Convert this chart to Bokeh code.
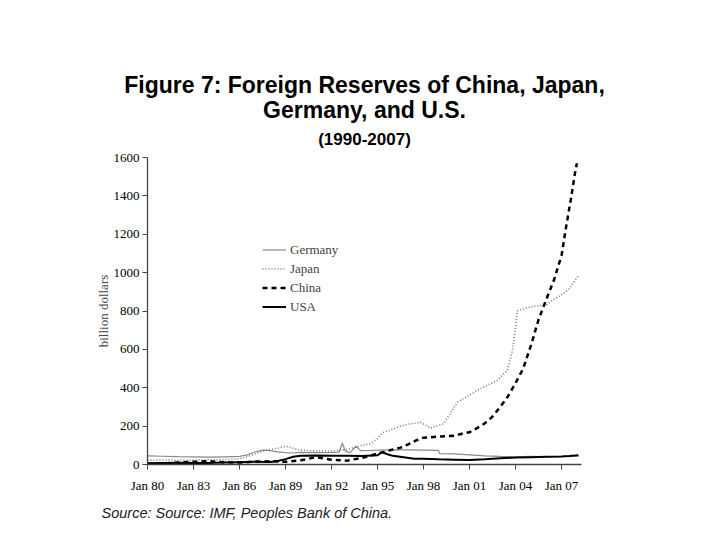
from bokeh.plotting import figure
from bokeh.models import FixedTicker, Legend, LegendItem, Range1d, Title
from bokeh.embed import file_html
from bokeh.resources import INLINE

# ---------------- data (billion dollars) ----------------
germany_years = [1980.0, 1981.0, 1982.0, 1983.0, 1984.0, 1985.0, 1986.0, 1986.5, 1987.0, 1987.5,
                 1988.0, 1988.5, 1989.0, 1989.5, 1990.0, 1991.0, 1992.0, 1992.5, 1992.7, 1992.9,
                 1993.2, 1993.6, 1993.9, 1994.5, 1995.0, 1996.0, 1997.0, 1998.0, 1998.95, 1999.05,
                 2000.0, 2001.0, 2002.0, 2003.0, 2004.0, 2005.0, 2006.0, 2007.0, 2008.1]
germany_vals = [45, 43, 41, 40, 38, 40, 42, 50, 65, 75,
                72, 66, 62, 60, 63, 62, 63, 65, 112, 70,
                62, 95, 72, 73, 75, 77, 76, 75, 74, 57,
                55, 50, 45, 42, 40, 42, 40, 42, 45]

japan_years = [1980.0, 1981.0, 1982.0, 1983.0, 1984.0, 1985.0, 1986.0, 1986.5, 1987.0, 1987.5,
               1988.0, 1988.5, 1989.0, 1989.5, 1990.0, 1991.0, 1992.0, 1993.0, 1993.5, 1994.0,
               1994.5, 1995.0, 1995.3, 1995.8, 1996.5, 1997.0, 1997.8, 1998.46, 1999.0, 1999.3,
               1999.7, 2000.2, 2000.85, 2001.7, 2002.8, 2003.46, 2003.8, 2004.0, 2004.1, 2004.5,
               2005.0, 2005.5, 2006.0, 2006.5, 2007.0, 2007.5, 2008.1]
japan_vals = [22, 25, 22, 22, 24, 25, 30, 40, 55, 70,
              78, 85, 95, 85, 75, 70, 70, 78, 90, 100,
              108, 135, 165, 178, 200, 210, 220, 190, 205, 212,
              260, 325, 355, 395, 438, 491, 595, 716, 800, 810,
              822, 828, 832, 860, 885, 915, 985]

china_years = [1980.0, 1981.0, 1982.0, 1983.0, 1984.0, 1985.0, 1986.0, 1987.0, 1988.0, 1989.0,
               1990.0, 1991.0, 1992.0, 1993.0, 1994.0, 1994.5, 1995.0, 1995.5, 1996.0, 1996.5,
               1997.0, 1997.5, 1998.0, 1999.0, 2000.0, 2000.5, 2001.0, 2001.5, 2002.0, 2002.5,
               2003.0, 2003.5, 2004.0, 2004.5, 2005.0, 2005.5, 2006.0, 2006.5, 2007.0, 2007.3,
               2007.6, 2007.9, 2008.0]
china_vals = [3, 5, 10, 14, 17, 12, 10, 15, 17, 14,
              22, 38, 25, 20, 35, 45, 57, 68, 78, 88,
              105, 125, 140, 145, 150, 160, 168, 190, 215, 250,
              300, 355, 425, 500, 620, 755, 860, 960, 1090, 1240,
              1380, 1530, 1570]

usa_years = [1980.0, 1981.0, 1982.0, 1983.0, 1984.0, 1985.0, 1986.0, 1987.0, 1988.0, 1988.5,
             1989.0, 1989.5, 1990.0, 1991.0, 1992.0, 1993.0, 1994.0, 1995.0, 1995.3, 1995.7,
             1996.0, 1996.7, 1997.4, 1998.0, 1999.0, 2000.0, 2001.0, 2002.0, 2003.0, 2004.0,
             2005.0, 2006.0, 2007.0, 2007.5, 2008.1]
usa_vals = [7, 8, 9, 8, 8, 10, 12, 14, 13, 18,
            28, 40, 45, 47, 45, 45, 44, 48, 64, 52,
            45, 38, 30, 30, 27, 25, 23, 27, 32, 36,
            38, 40, 42, 44, 48]

x_tick_years = [1980, 1983, 1986, 1989, 1992, 1995, 1998, 2001, 2004, 2007]
x_tick_labels = ["Jan 80", "Jan 83", "Jan 86", "Jan 89", "Jan 92", "Jan 95",
                 "Jan 98", "Jan 01", "Jan 04", "Jan 07"]
y_ticks = [0, 200, 400, 600, 800, 1000, 1200, 1400, 1600]

title_lines = ["Figure 7: Foreign Reserves of China, Japan,", "Germany, and U.S.", "(1990-2007)"]
source_text = "Source: Source: IMF, Peoples Bank of China."

# ---------------- figure ----------------
SERIF = "Liberation Serif"
SANS = "Liberation Sans"

p = figure(width=704, height=530, output_backend="svg", toolbar_location=None, title=None,
           x_range=Range1d(1980, 2008.3), y_range=Range1d(0, 1600),
           min_border_left=147, min_border_right=123, min_border_top=157, min_border_bottom=66)
p.outline_line_color = None
p.xgrid.visible = False
p.ygrid.visible = False
p.background_fill_color = "white"

for ax in (p.xaxis[0], p.yaxis[0]):
    ax.axis_line_color = "#444444"
    ax.axis_line_width = 1.3
    ax.major_tick_line_color = "#444444"
    ax.major_tick_in = 0
    ax.major_tick_out = 5
    ax.minor_tick_line_color = None
    ax.major_label_text_font = SERIF
    ax.major_label_text_font_size = "13px"
    ax.major_label_text_color = "black"

p.xaxis.ticker = FixedTicker(ticks=x_tick_years)
p.xaxis.major_label_overrides = {yr: lab for yr, lab in zip(x_tick_years, x_tick_labels)}
p.xaxis.major_label_standoff = 8

p.yaxis.ticker = FixedTicker(ticks=y_ticks)
p.yaxis.major_label_standoff = 3
p.yaxis.axis_label = "billion dollars"
p.yaxis.axis_label_text_font = SERIF
p.yaxis.axis_label_text_font_size = "13px"
p.yaxis.axis_label_text_font_style = "normal"
p.yaxis.axis_label_standoff = 0

r_g = p.line(germany_years, germany_vals, line_color="#8a8a8a", line_width=1.2)
r_j = p.line(japan_years, japan_vals, line_color="#777777", line_width=1.6, line_dash="1 2")
r_c = p.line(china_years, china_vals, line_color="black", line_width=2.5, line_dash="5 4")
r_u = p.line(usa_years, usa_vals, line_color="black", line_width=2.0)

legend = Legend(items=[LegendItem(label="Germany", renderers=[r_g]),
                       LegendItem(label="Japan", renderers=[r_j]),
                       LegendItem(label="China", renderers=[r_c]),
                       LegendItem(label="USA", renderers=[r_u])],
                location=(115, 148), margin=0, padding=0, spacing=0,
                glyph_width=24, glyph_height=19, label_standoff=4,
                label_text_font=SERIF, label_text_font_size="13px",
                label_height=19, border_line_color=None, background_fill_alpha=0)
p.add_layout(legend, "center")

# titles stacked above the frame (first added = closest to frame)
p.add_layout(Title(text=title_lines[2], align="center", text_font=SANS, text_font_size="17px",
                   text_font_style="bold", text_color="black", standoff=18), "above")
p.add_layout(Title(text=title_lines[1], align="center", text_font=SANS, text_font_size="23px",
                   text_font_style="bold", text_color="black", standoff=-8), "above")
p.add_layout(Title(text=title_lines[0], align="center", text_font=SANS, text_font_size="23px",
                   text_font_style="bold", text_color="black", standoff=1), "above")

p.add_layout(Title(text=source_text, align="left", offset=-46, text_font=SANS, text_font_size="14.5px",
                   text_font_style="italic", text_color="#222222", standoff=15), "below")

open("out.html", "w").write(file_html(p, INLINE))
